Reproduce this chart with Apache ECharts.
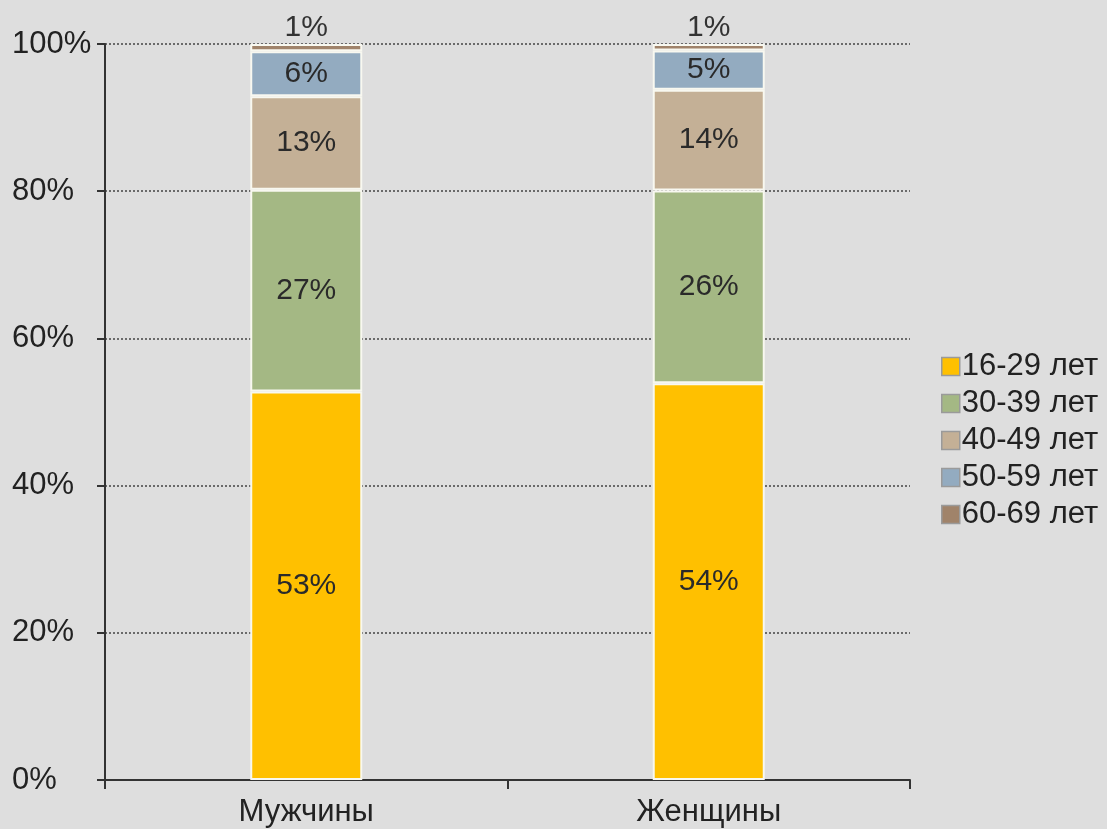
<!DOCTYPE html>
<html><head><meta charset="utf-8">
<script src="https://cdn.jsdelivr.net/npm/echarts@6/dist/echarts.min.js"></script>
<style>html,body{margin:0;padding:0;background:#dedede;}#c{width:1107px;height:829px;}</style>
</head><body><div id="c"></div>
<script>
const categories = ['Мужчины', 'Женщины'];
const seriesNames = ['16-29 лет', '30-39 лет', '40-49 лет', '50-59 лет', '60-69 лет'];
const age16_29 = [52.8, 53.9];
const age30_39 = [27.4, 26.2];
const age40_49 = [12.7, 13.7];
const age50_59 = [6.1, 5.3];
const age60_69 = [1.0, 0.9];
const yTicks = [0, 20, 40, 60, 80, 100];
const colors = ['#FFC000', '#A4B884', '#C4B096', '#93ABC0', '#A0836A'];
const values = [age16_29, age30_39, age40_49, age50_59, age60_69];

const chart = echarts.init(document.getElementById('c'));
const FONT = 'Liberation Sans, Arial, sans-serif';
chart.setOption({
  backgroundColor: '#dedede',
  animation: false,
  grid: {left: 105, right: 197, top: 44, bottom: 49},
  legend: {
    orient: 'vertical', left: 936, top: 346,
    itemWidth: 18, itemHeight: 18, itemGap: 6,
    icon: 'rect',
    textStyle: {fontSize: 31, lineHeight: 31, color: '#222', fontFamily: FONT, padding: [0,0,0,-3]},
    itemStyle: {borderColor: '#9a9a9a', borderWidth: 1.5},
    data: seriesNames
  },
  xAxis: {
    type: 'category', data: categories,
    axisLine: {lineStyle: {color: '#333', width: 2}},
    axisTick: {show: true, length: 9, lineStyle: {color: '#333', width: 2}},
    axisLabel: {fontSize: 31, color: '#222', fontFamily: FONT, margin: 17}
  },
  yAxis: {
    type: 'value', min: 0, max: 100, interval: 20,
    axisLine: {show: true, lineStyle: {color: '#333', width: 2}},
    axisTick: {show: true, length: 8, lineStyle: {color: '#333', width: 2}},
    axisLabel: {fontSize: 31, color: '#222', fontFamily: FONT, margin: 93, align: 'left',
      formatter: v => yTicks.includes(v) ? v + '%' : ''},
    splitLine: {lineStyle: {color: '#444', type: [2, 2], width: 1.5}}
  },
  series: seriesNames.map((name, i) => ({
    name, type: 'bar', stack: 'total', barWidth: 112,
    data: values[i],
    itemStyle: {color: colors[i], borderColor: '#f8f8f0', borderWidth: 2},
    label: {
      show: true,
      position: i === 4 ? 'top' : 'inside',
      distance: 1,
      fontSize: 30, fontFamily: FONT,
      color: i === 4 ? '#333' : '#2a2a2a',
      formatter: p => Math.round(p.value) + '%'
    }
  }))
});
</script></body></html>
